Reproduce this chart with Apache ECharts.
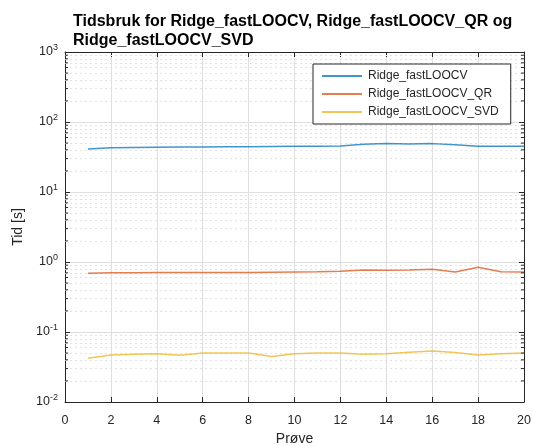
<!DOCTYPE html>
<html>
<head>
<meta charset="utf-8">
<script src="https://cdn.jsdelivr.net/npm/echarts@6/dist/echarts.min.js"></script>
<style>
  html, body { margin: 0; padding: 0; background: #fff; }
  #chart { width: 533px; height: 446px; }
</style>
</head>
<body>
<div id="chart"></div>
<script>
// Sample index (Prøve) 1..20
const samples = [1, 2, 3, 4, 5, 6, 7, 8, 9, 10, 11, 12, 13, 14, 15, 16, 17, 18, 19, 20];

// Runtime in seconds for each method
const fastLOOCV = [41.1, 43.0, 43.3, 43.6, 43.8, 44.0, 44.2, 44.4, 44.7, 44.9, 45.0, 45.4, 48.0, 49.1, 48.5, 49.1, 47.4, 44.9, 44.9, 44.9];
const fastLOOCV_QR = [0.69, 0.70, 0.705, 0.71, 0.71, 0.71, 0.71, 0.71, 0.715, 0.72, 0.725, 0.736, 0.77, 0.76, 0.77, 0.785, 0.72, 0.84, 0.727, 0.72];
const fastLOOCV_SVD = [0.0421, 0.047, 0.048, 0.049, 0.0465, 0.050, 0.050, 0.050, 0.0445, 0.049, 0.050, 0.050, 0.048, 0.049, 0.0513, 0.0535, 0.0508, 0.047, 0.049, 0.050];

const seriesNames = ['Ridge_fastLOOCV', 'Ridge_fastLOOCV_QR', 'Ridge_fastLOOCV_SVD'];
const seriesColors = ['#0072BD', '#D95319', '#EDB120'];

// Axis ranges and ticks
const xTicks = [0, 2, 4, 6, 8, 10, 12, 14, 16, 18, 20];
const yDecades = [-2, -1, 0, 1, 2, 3];

// Minor log grid values (2..9 times each decade)
const minorValues = [];
for (let d = -2; d < 3; d++) {
  for (let m = 2; m <= 9; m++) minorValues.push(m * Math.pow(10, d));
}

const axisColor = '#262626';
const font = '"Liberation Sans", Arial, Helvetica, sans-serif';

function pairs(ys) { return samples.map((x, i) => [x, ys[i]]); }

const chart = echarts.init(document.getElementById('chart'), null, { renderer: 'canvas' });

const lineSeries = [fastLOOCV, fastLOOCV_QR, fastLOOCV_SVD].map((ys, i) => ({
  name: seriesNames[i],
  type: 'line',
  data: pairs(ys),
  showSymbol: false,
  symbol: 'none',
  z: 5,
  lineStyle: { color: seriesColors[i], width: 1.5, opacity: 0.75 },
  itemStyle: { color: seriesColors[i] },
  animation: false
}));

// dotted minor grid lines across the plot
lineSeries[0].markLine = {
  silent: true,
  symbol: 'none',
  label: { show: false },
  animation: false,
  z: 1,
  lineStyle: { type: [2, 3], color: '#e2e2e2', width: 1 },
  data: minorValues.map(v => ({ yAxis: v }))
};

// short minor tick marks at the left and right edges of the axes box
const minorTicks = {
  type: 'custom',
  silent: true,
  animation: false,
  z: 6,
  data: minorValues.map(v => [0, v]),
  renderItem: function (params, api) {
    const v = api.value(1);
    const l = api.coord([0, v]);
    const r = api.coord([20, v]);
    const st = { stroke: axisColor, lineWidth: 1 };
    return {
      type: 'group',
      children: [
        { type: 'line', shape: { x1: l[0], y1: l[1], x2: l[0] + 3, y2: l[1] }, style: st },
        { type: 'line', shape: { x1: r[0] - 3, y1: r[1], x2: r[0], y2: r[1] }, style: st }
      ]
    };
  }
};

const xCommon = {
  type: 'value',
  min: xTicks[0],
  max: xTicks[xTicks.length - 1],
  interval: 2,
  axisLine: { show: true, onZero: false, lineStyle: { color: axisColor, width: 1 } },
  axisTick: { show: true, inside: true, length: 5, lineStyle: { color: axisColor } }
};
const yCommon = {
  type: 'log',
  logBase: 10,
  min: Math.pow(10, yDecades[0]),
  max: Math.pow(10, yDecades[yDecades.length - 1]),
  axisLine: { show: true, onZero: false, lineStyle: { color: axisColor, width: 1 } },
  axisTick: { show: true, inside: true, length: 5, lineStyle: { color: axisColor } }
};

chart.setOption({
  backgroundColor: '#ffffff',
  animation: false,
  textStyle: { fontFamily: font },
  title: {
    text: 'Tidsbruk for Ridge_fastLOOCV, Ridge_fastLOOCV_QR og\nRidge_fastLOOCV_SVD',
    left: 68,
    top: 7,
    textStyle: { fontFamily: font, fontSize: 16, fontWeight: 'bold', color: '#000', lineHeight: 19 }
  },
  legend: {
    data: seriesNames,
    orient: 'vertical',
    left: 313,
    top: 64,
    itemWidth: 40,
    itemHeight: 1.5,
    itemGap: 6,
    icon: 'rect',
    padding: [6, 12, 6, 9],
    backgroundColor: '#fff',
    borderColor: axisColor,
    borderWidth: 1,
    borderRadius: 0,
    textStyle: { fontFamily: font, fontSize: 12, color: axisColor, padding: [0, 0, 0, 1] }
  },
  grid: { left: 65, right: 9, top: 52, bottom: 44, containLabel: false, outerBoundsMode: 'none' },
  xAxis: [
    Object.assign({}, xCommon, {
      position: 'bottom',
      name: 'Prøve',
      nameLocation: 'middle',
      nameGap: 30,
      nameTextStyle: { fontFamily: font, fontSize: 14, color: axisColor },
      axisLabel: { color: axisColor, fontFamily: font, fontSize: 12.5, margin: 12 },
      splitLine: { show: true, lineStyle: { color: '#dfdfdf', width: 1 } }
    }),
    Object.assign({}, xCommon, {
      position: 'top',
      axisLabel: { show: false },
      splitLine: { show: false }
    })
  ],
  yAxis: [
    Object.assign({}, yCommon, {
      position: 'left',
      name: 'Tid [s]',
      nameLocation: 'middle',
      nameGap: 36,
      nameRotate: 90,
      nameTextStyle: { fontFamily: font, fontSize: 14, color: axisColor },
      splitLine: { show: true, lineStyle: { color: '#dfdfdf', width: 1 } },
      axisLabel: {
        margin: 7,
        formatter: function (v) {
          const e = Math.round(Math.log10(v));
          return '{b|10}{e|' + e + '}';
        },
        rich: {
          b: { fontFamily: font, fontSize: 12.5, color: axisColor },
          e: { fontFamily: font, fontSize: 9, color: axisColor, padding: [0, 0, 9, 0] }
        }
      }
    }),
    Object.assign({}, yCommon, {
      position: 'right',
      axisLabel: { show: false },
      splitLine: { show: false }
    })
  ],
  series: lineSeries.concat([minorTicks])
});
</script>
</body>
</html>
